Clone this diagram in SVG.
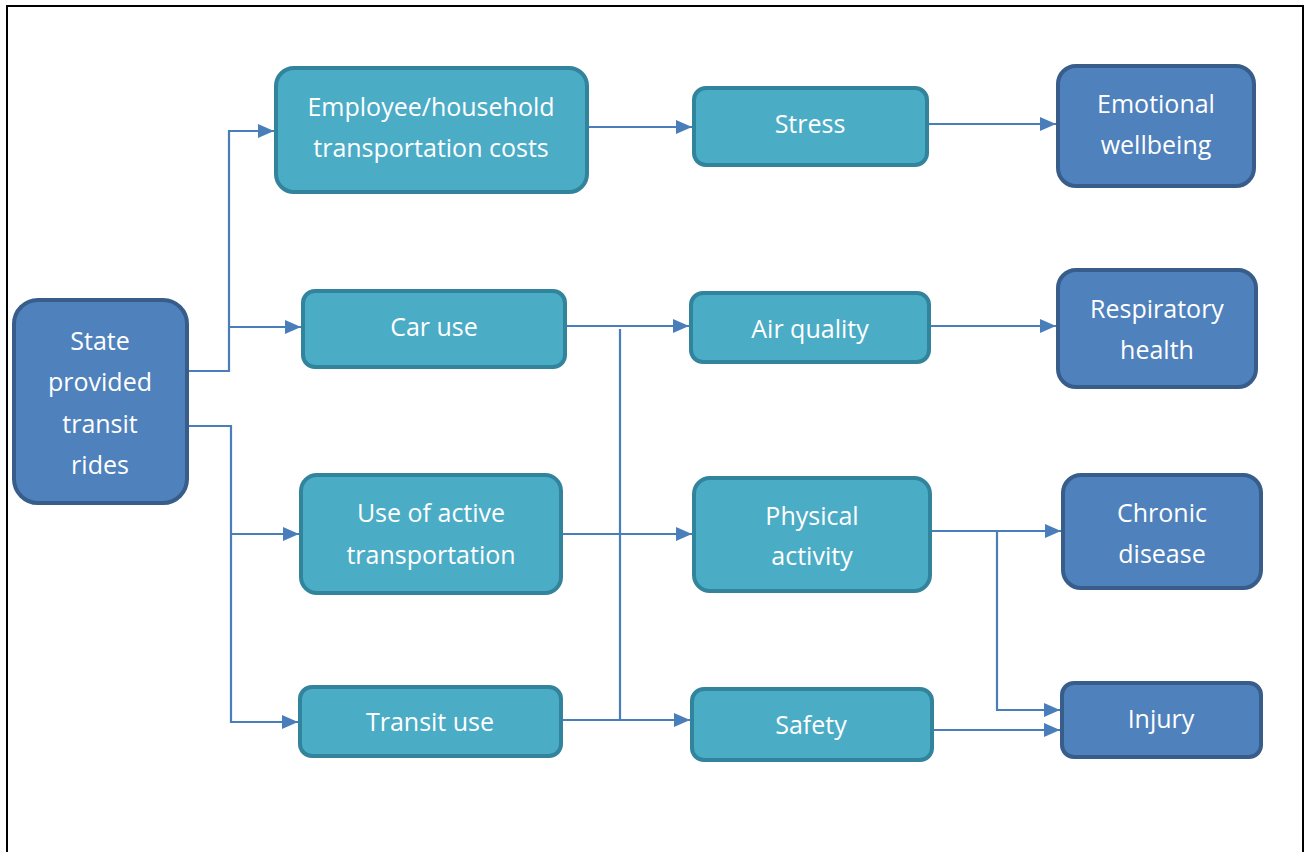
<svg xmlns="http://www.w3.org/2000/svg" width="1305" height="852" viewBox="0 0 1305 852">
<style>
.t{fill:#4bacc6;stroke:#31849b;stroke-width:4}
.b{fill:#4f81bd;stroke:#385d8a;stroke-width:4}
text{font-family:"Open Sans","Liberation Sans",sans-serif;font-size:25px;fill:#fff;text-anchor:middle}
.c path{fill:none;stroke:#4a7ebb;stroke-width:2.2}
</style>
<defs>
<marker id="a" markerWidth="16" markerHeight="14" refX="16" refY="7" orient="auto" markerUnits="userSpaceOnUse">
<path d="M0,0 L16,7 L0,14 Z" fill="#4a7ebb"/>
</marker>
</defs>
<rect x="0" y="0" width="1305" height="852" fill="#fff"/>
<path d="M7,852 V6 H1303 V852" fill="none" stroke="#000" stroke-width="2"/>
<g class="c">
<path d="M187,371 H229 V131 H274" marker-end="url(#a)"/>
<path d="M229,327 H301" marker-end="url(#a)"/>
<path d="M187,426 H231 V722 H298" marker-end="url(#a)"/>
<path d="M231,534 H299" marker-end="url(#a)"/>
<path d="M587,127 H692" marker-end="url(#a)"/>
<path d="M927,124 H1056" marker-end="url(#a)"/>
<path d="M565,326 H689" marker-end="url(#a)"/>
<path d="M620,329 V720"/>
<path d="M561,720 H690" marker-end="url(#a)"/>
<path d="M561,534 H692" marker-end="url(#a)"/>
<path d="M929,326 H1056" marker-end="url(#a)"/>
<path d="M930,531 H1061" marker-end="url(#a)"/>
<path d="M997,531 V710 H1060" marker-end="url(#a)"/>
<path d="M932,730 H1060" marker-end="url(#a)"/>
</g>
<g id="state"><rect class="b" x="14" y="300" width="173" height="203" rx="24"/><text x="100" y="350">State</text><text x="100" y="391">provided</text><text x="100" y="433">transit</text><text x="100" y="474">rides</text></g>
<g id="costs"><rect class="t" x="276" y="68" width="311" height="124" rx="18"/><text x="431" y="116">Employee/household</text><text x="431" y="157">transportation costs</text></g>
<g id="car"><rect class="t" x="303" y="291" width="262" height="76" rx="12"/><text x="434" y="336">Car use</text></g>
<g id="active"><rect class="t" x="301" y="475" width="260" height="118" rx="16"/><text x="431" y="522">Use of active</text><text x="431" y="564">transportation</text></g>
<g id="transit"><rect class="t" x="300" y="687" width="261" height="69" rx="12"/><text x="430" y="731">Transit use</text></g>
<g id="stress"><rect class="t" x="694" y="88" width="233" height="77" rx="12"/><text x="810" y="133">Stress</text></g>
<g id="air"><rect class="t" x="691" y="293" width="238" height="69" rx="12"/><text x="810" y="338">Air quality</text></g>
<g id="physical"><rect class="t" x="694" y="478" width="236" height="113" rx="16"/><text x="812" y="525">Physical</text><text x="812" y="565">activity</text></g>
<g id="safety"><rect class="t" x="692" y="689" width="240" height="71" rx="12"/><text x="811" y="734">Safety</text></g>
<g id="emotional"><rect class="b" x="1058" y="66" width="196" height="120" rx="18"/><text x="1156" y="113">Emotional</text><text x="1156" y="154">wellbeing</text></g>
<g id="respiratory"><rect class="b" x="1058" y="270" width="198" height="117" rx="18"/><text x="1157" y="318">Respiratory</text><text x="1157" y="359">health</text></g>
<g id="chronic"><rect class="b" x="1063" y="475" width="198" height="113" rx="18"/><text x="1162" y="522">Chronic</text><text x="1162" y="563">disease</text></g>
<g id="injury"><rect class="b" x="1062" y="683" width="199" height="74" rx="12"/><text x="1161" y="728">Injury</text></g>
</svg>
